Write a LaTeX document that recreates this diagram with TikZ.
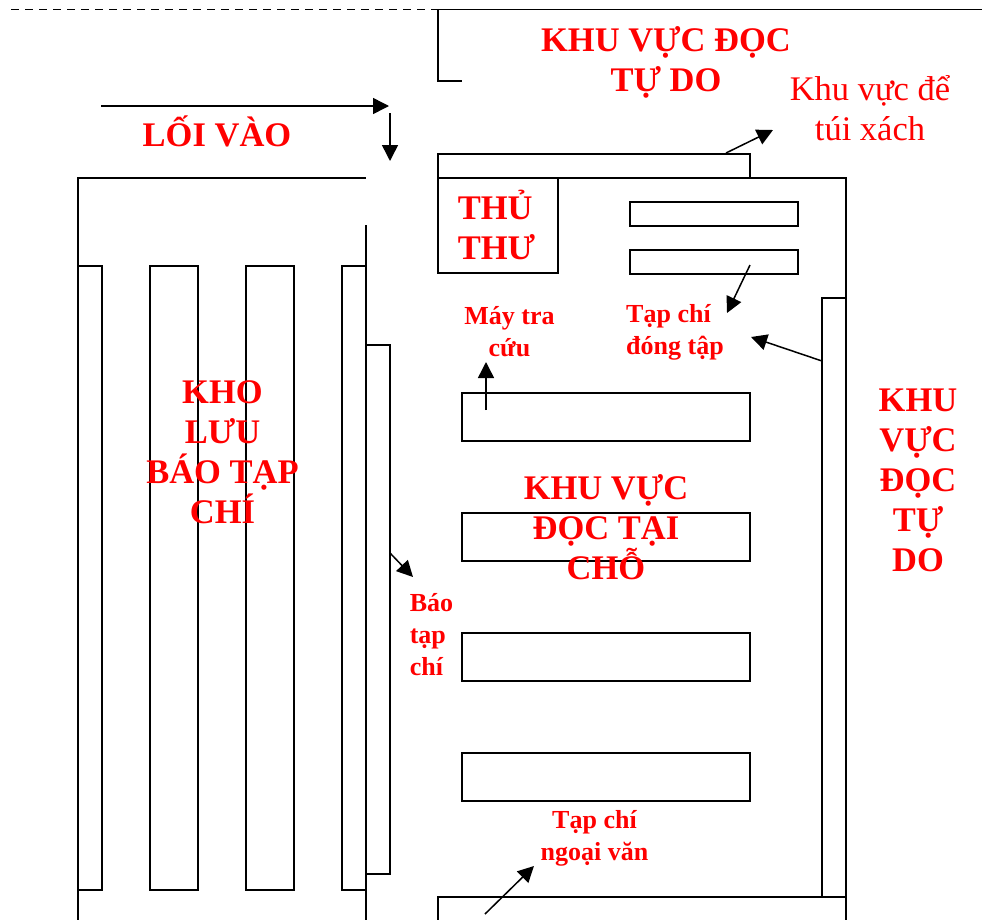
\documentclass[tikz,border=0pt]{standalone}
\usepackage{fontspec}
\setmainfont{Liberation Serif}
\usetikzlibrary{arrows.meta}
\tikzset{
  x=1pt,y=-1pt,
  wall/.style={line width=1.8pt,black},
  box/.style={draw=black,line width=1.8pt,fill=none,inner sep=0pt,outer sep=0pt,anchor=north west},
  conn/.style={line width=1.5pt,black,-{Triangle[length=16pt,width=16pt]}},
  big/.style={text=red,font=\fontsize{34.5}{40}\selectfont\bfseries,align=center,inner sep=0pt},
  small/.style={text=red,font=\fontsize{26}{32}\selectfont\bfseries,align=left,inner sep=0pt},
  plain/.style={text=red,font=\fontsize{34.5}{40}\selectfont,align=center,inner sep=0pt}
}
\newcommand{\boxat}[5]{\node[box,minimum width=#4pt,minimum height=#5pt] (#1) at (#2,#3) {};}
\begin{document}
\begin{tikzpicture}
\useasboundingbox (0,0) rectangle (982,919);
\clip (0,0) rectangle (982,919);
% outer lines
\coordinate (dashL) at (11,9.5);
\coordinate (corner) at (438,9.5);
\coordinate (topR) at (982,9.5);
\coordinate (stub) at (462,81);
\draw[wall,dash pattern=on 8pt off 6pt] (dashL) -- (corner);
\draw[wall] (topR) -- (corner) |- (stub);
\coordinate (wallTL) at (78,178);
\coordinate (wallTR) at (366,178);
\coordinate (wallBL) at (78,930);
\coordinate (wallMT) at (366,225);
\coordinate (wallMB) at (366,930);
\draw[wall] (wallBL) -- (wallTL) -- (wallTR);
\draw[wall] (wallMT) -- (wallMB);
% shelves
\boxat{sA}{78}{266}{24}{624}
\boxat{sB}{150}{266}{48}{624}
\boxat{sC}{246}{266}{48}{624}
\boxat{sD}{342}{266}{24}{624}
\boxat{sE}{366}{345}{24}{529}
% room
\boxat{bag}{438}{154}{312}{24}
\boxat{lib}{438}{178}{120}{95}
\coordinate (roomTL) at (750,178);
\coordinate (roomTR) at (846,178);
\coordinate (roomBR) at (846,930);
\draw[wall] (roomTL) -- (roomTR) -- (roomBR);
\boxat{mA}{630}{202}{168}{24}
\boxat{mB}{630}{250}{168}{24}
\boxat{sR}{822}{298}{24}{599}
\boxat{tA}{462}{393}{288}{48}
\boxat{tB}{462}{513}{288}{48}
\boxat{tC}{462}{633}{288}{48}
\boxat{tD}{462}{753}{288}{48}
\boxat{fo}{438}{897}{408}{40}
% texts
\node[big] (tFree) at (666,62.5) {KHU VỰC ĐỌC\\TỰ DO};
\node[plain] (tBag) at (870,108.5) {Khu vực để\\túi xách};
\node[big] (tIn) at (217,131.5) {LỐI VÀO};
\node[big,align=left] (tLib) at (496.5,225) {THỦ\\THƯ};
\node[big] (tStore) at (222.5,452.5) {KHO\\LƯU\\BÁO TẠP\\CHÍ};
\node[big] (tRead) at (606,527) {KHU VỰC\\ĐỌC TẠI\\CHỖ};
\node[big] (tFree2) at (918,480) {KHU\\VỰC\\ĐỌC\\TỰ\\DO};
\node[small,align=center] (tSearch) at (509.5,331.5) {Máy tra\\cứu};
\node[small] (tBound) at (675,332) {Tạp chí\\đóng tập};
\node[small] (tNews) at (431.5,635) {Báo\\tạp\\chí};
\node[small,align=center] (tForeign) at (594.5,838) {Tạp chí\\ngoại văn};
% arrows
\coordinate (a1s) at (101,106); \coordinate (a1e) at (389,106);
\coordinate (a2s) at (390,113); \coordinate (a2e) at (390,161);
\coordinate (a3s) at (726,153); \coordinate (a3e) at (773,130);
\coordinate (a4s) at (750,265); \coordinate (a4e) at (727,313);
\coordinate (a5s) at (822,361); \coordinate (a5e) at (751,337);
\coordinate (a6s) at (486,410); \coordinate (a6e) at (486,362);
\coordinate (a7s) at (390,553); \coordinate (a7e) at (413,577);
\coordinate (a8s) at (485,914); \coordinate (a8e) at (534,866);
\foreach \n in {1,...,8} \draw[conn] (a\n s) -- (a\n e);
\end{tikzpicture}
\end{document}
